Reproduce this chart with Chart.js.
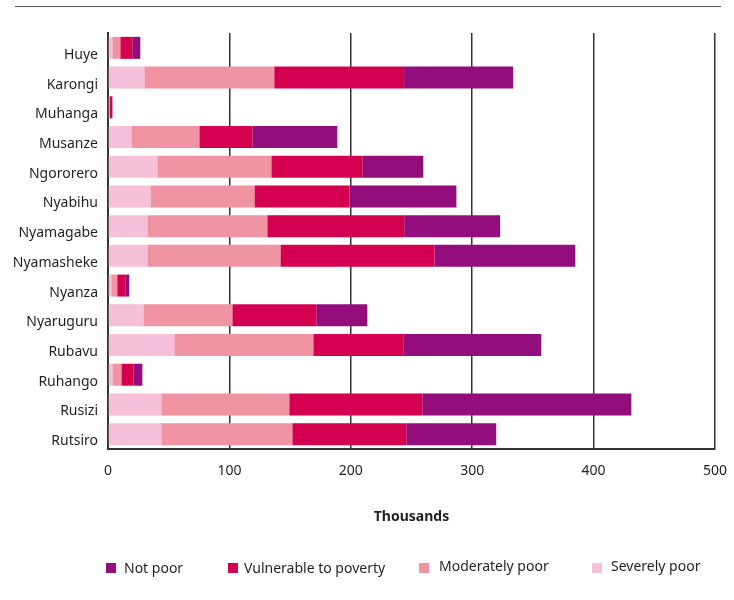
<!DOCTYPE html>
<html>
<head>
<meta charset="utf-8">
<script src="https://cdn.jsdelivr.net/npm/chart.js@4"></script>
<style>
  html, body { margin: 0; padding: 0; background: #fff; }
  #wrap { position: relative; width: 734px; height: 600px; }
  #topline { position: absolute; left: 15px; top: 6px; width: 706px; height: 1px; background: #555; }
  .lg { position: absolute; top: 558px; font: 14px "Noto Sans", sans-serif; color: #231f20; white-space: nowrap; line-height: 20px; }
  .sw { position: absolute; width: 10px; height: 10px; top: 563px; }
</style>
</head>
<body>
<div id="wrap">
  <canvas id="c" width="734" height="600"></canvas>
  <div id="topline"></div>
  <div class="sw" style="left:106px;background:#940d7c"></div><div class="lg" style="left:124px">Not poor</div>
  <div class="sw" style="left:228px;background:#d4004f"></div><div class="lg" style="left:244px">Vulnerable to poverty</div>
  <div class="sw" style="left:419px;background:#f094a3"></div><div class="lg" style="left:439px;top:556px">Moderately poor</div>
  <div class="sw" style="left:592px;background:#f6c0d8"></div><div class="lg" style="left:611px;top:556px">Severely poor</div>
</div>
<script>
const districts = ["Huye","Karongi","Muhanga","Musanze","Ngororero","Nyabihu","Nyamagabe","Nyamasheke","Nyanza","Nyaruguru","Rubavu","Ruhango","Rusizi","Rutsiro"];
const severelyPoor   = [3.5, 29.9, 0.6, 19.2, 40.6, 34.9, 32.4, 32.4, 2.7, 29.1, 54.6, 3.6, 43.9, 43.9];
const moderatelyPoor = [6.6, 107.0, 1.0, 56.0, 93.9, 85.7, 98.8, 109.6, 4.9, 73.3, 114.5, 7.4, 105.4, 107.9];
const vulnerable     = [9.9, 107.0, 1.9, 43.7, 75.0, 78.3, 112.8, 126.9, 6.6, 69.2, 74.1, 9.9, 109.6, 93.9];
const notPoor        = [6.6, 89.8, 0.2, 70.0, 50.2, 88.1, 79.0, 116.0, 3.3, 42.0, 113.7, 7.4, 172.2, 74.1];
const xTicks = [0, 100, 200, 300, 400, 500];

const font = { family: "'Noto Sans', sans-serif", size: 14 };
new Chart(document.getElementById('c'), {
  type: 'bar',
  data: {
    labels: districts,
    datasets: [
      { label: 'Severely poor', data: severelyPoor, backgroundColor: '#f6c0d8' },
      { label: 'Moderately poor', data: moderatelyPoor, backgroundColor: '#f094a3' },
      { label: 'Vulnerable to poverty', data: vulnerable, backgroundColor: '#d4004f' },
      { label: 'Not poor', data: notPoor, backgroundColor: '#940d7c' }
    ]
  },
  options: {
    indexAxis: 'y',
    responsive: false,
    animation: false,
    devicePixelRatio: 1,
    layout: { padding: { top: 33, right: 19, left: 0, bottom: 0 } },
    datasets: { bar: { categoryPercentage: 1, barPercentage: 0.74, borderWidth: 0 } },
    plugins: { legend: { display: false }, tooltip: { enabled: false } },
    scales: {
      x: {
        stacked: true,
        min: 0, max: 500,
        afterBuildTicks: s => { s.ticks = xTicks.map(v => ({ value: v })); },
        afterFit: s => { s.height = 151; s.paddingLeft = 0; s.paddingRight = 0; },
        grid: { color: '#333', lineWidth: 1.5, drawTicks: false },
        border: { display: true, color: '#333', width: 2 },
        ticks: { font: font, color: '#231f20', padding: 14 },
        title: { display: true, text: 'Thousands', color: '#231f20',
                 font: { family: "'Noto Sans', sans-serif", size: 14, weight: 'bold' },
                 padding: { top: 0, bottom: 75 } }
      },
      y: {
        stacked: true,
        afterFit: s => { s.width = 108; s.paddingTop = 0; s.paddingBottom = 0; },
        grid: { display: false },
        border: { display: true, color: '#333', width: 2 },
        ticks: { font: font, color: '#231f20', padding: 2, labelOffset: 7 }
      }
    }
  }
});
</script>
</body>
</html>
